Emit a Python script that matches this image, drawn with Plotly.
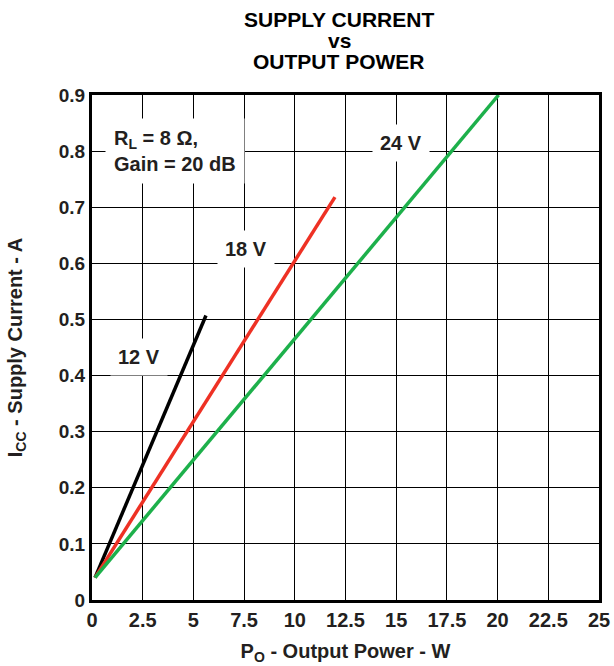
import plotly.graph_objects as go

# ---- data ----
x_12v = [0.15, 5.62]
y_12v = [0.04, 0.507]
x_18v = [0.15, 9.95, 11.98]
y_18v = [0.04, 0.60, 0.718]
x_24v = [0.15, 17.73, 20.05]
y_24v = [0.04, 0.80, 0.90]

x_ticks = [0, 2.5, 5, 7.5, 10, 12.5, 15, 17.5, 20, 22.5, 25]
x_tick_text = ["0", "2.5", "5", "7.5", "10", "12.5", "15", "17.5", "20", "22.5", "25"]
y_ticks = [0, 0.1, 0.2, 0.3, 0.4, 0.5, 0.6, 0.7, 0.8, 0.9]
y_tick_text = ["0", "0.1", "0.2", "0.3", "0.4", "0.5", "0.6", "0.7", "0.8", "0.9"]

labels_text = ["12 V", "18 V", "24 V"]
labels_x = [2.33, 7.6, 15.25]
labels_y = [0.433, 0.626, 0.815]

FONT = "Liberation Sans, Arial, Helvetica, sans-serif"
TXT = "#231F20"

L, R, T, B = 92, 15, 95, 66
W, H = 614, 666
PW, PH = W - L - R, H - T - B

fig = go.Figure()
for xs, ys, col in [(x_12v, y_12v, "#000000"),
                    (x_18v, y_18v, "#EE3124"),
                    (x_24v, y_24v, "#1DB04B")]:
    fig.add_trace(go.Scatter(x=xs, y=ys, mode="lines",
                             line=dict(color=col, width=3.5),
                             cliponaxis=False, showlegend=False,
                             hoverinfo="skip"))

annotations = []
for t, x, y in zip(labels_text, labels_x, labels_y):
    annotations.append(dict(x=x, y=y, xref="x", yref="y", text="<b>%s</b>" % t,
                            showarrow=False, bgcolor="white", borderpad=7,
                            font=dict(family=FONT, size=20, color=TXT)))
annotations.append(dict(x=4.1, y=0.80, xref="x", yref="y",
                        text="<b>R<sub>L</sub> = 8 Ω,<br>Gain = 20 dB</b>",
                        align="left", showarrow=False, bgcolor="white", borderpad=8,
                        font=dict(family=FONT, size=20, color=TXT)))
# title lines (pixel positions converted to plot-area paper coords)
for t, ypx in [("SUPPLY CURRENT", 19), ("vs", 41), ("OUTPUT POWER", 62)]:
    annotations.append(dict(x=(339 - L) / PW, y=(H - B - ypx) / PH,
                            xref="paper", yref="paper",
                            text="<b>%s</b>" % t, showarrow=False,
                            xanchor="center", yanchor="middle",
                            font=dict(family=FONT, size=21, color="#000000")))

fig.update_layout(
    width=W, height=H,
    margin=dict(l=L, r=R, t=T, b=B, autoexpand=False),
    paper_bgcolor="white", plot_bgcolor="white",
    annotations=annotations,
    font=dict(family=FONT, color=TXT),
)
fig.update_xaxes(
    range=[0, 25], tickvals=x_ticks, ticktext=x_tick_text,
    automargin=False,
    showgrid=True, gridcolor="#000000", gridwidth=1,
    showline=True, linecolor="#000000", linewidth=3, mirror=True,
    zeroline=False, ticks="", ticklen=0,
    tickfont=dict(family=FONT, size=20, color=TXT, weight="bold"),
    title=dict(text="<b>P<sub>O</sub> - Output Power - W</b>",
               font=dict(family=FONT, size=20, color=TXT), standoff=14),
)
fig.update_yaxes(
    range=[0, 0.9], tickvals=y_ticks, ticktext=y_tick_text,
    automargin=False,
    showgrid=True, gridcolor="#000000", gridwidth=1,
    showline=True, linecolor="#000000", linewidth=3, mirror=True,
    zeroline=False, ticks="", ticklen=0,
    tickfont=dict(family=FONT, size=19, color=TXT, weight="bold"),
    title=dict(text="<b>I<sub>CC</sub> - Supply Current - A</b>",
               font=dict(family=FONT, size=20, color=TXT), standoff=31),
)

fig.write_html("out.html", config={"displayModeBar": False},
               post_script="document.body.style.margin='0';document.body.style.padding='0';")
